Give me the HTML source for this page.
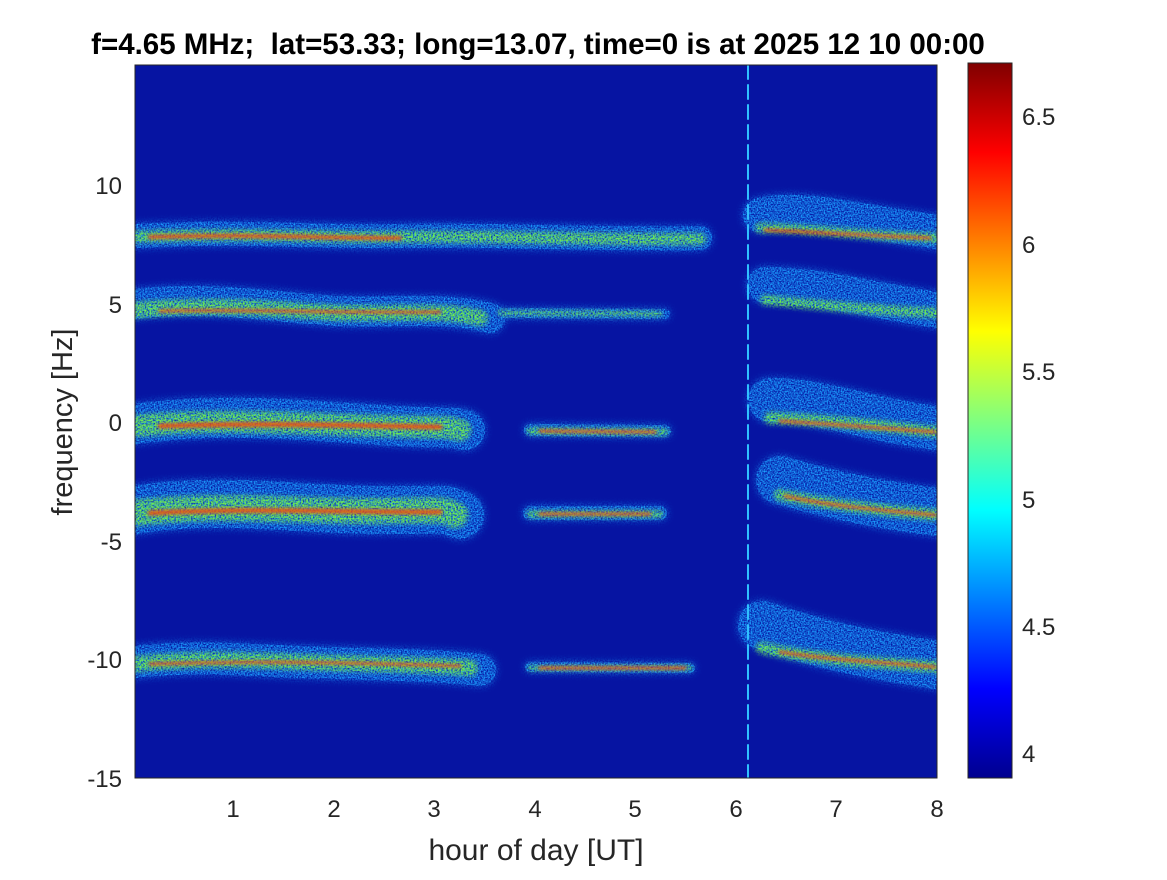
<!DOCTYPE html>
<html><head><style>
body{margin:0;background:#fff;}
svg text{font-family:"Liberation Sans",Arial,sans-serif;fill:#262626;}
</style></head><body>
<svg width="1167" height="875" xmlns="http://www.w3.org/2000/svg">
<defs>
<filter id="b1" x="-10%" y="-200%" width="120%" height="500%"><feGaussianBlur stdDeviation="4"/>
<feComposite in2="SourceGraphic" operator="over" result="bl"/>
<feTurbulence type="fractalNoise" baseFrequency="0.7" numOctaves="1" seed="3" result="n"/>
<feColorMatrix in="n" type="matrix" values="0 0 0 0 0  0 0 0 0 0  0 0 0 0 0  0 0 0 2.2 -0.6" result="na"/>
<feComposite in="bl" in2="na" operator="in"/></filter>
<filter id="b2" x="-10%" y="-200%" width="120%" height="500%"><feGaussianBlur stdDeviation="2.5" result="bl"/>
<feTurbulence type="fractalNoise" baseFrequency="0.6" numOctaves="1" seed="7" result="n"/>
<feColorMatrix in="n" type="matrix" values="0 0 0 0 0  0 0 0 0 0  0 0 0 0 0  0 0 0 2.5 -0.7" result="na"/>
<feComposite in="bl" in2="na" operator="in"/></filter>
<filter id="b3" x="-10%" y="-200%" width="120%" height="500%"><feGaussianBlur stdDeviation="1.5"/></filter>
<linearGradient id="jet" x1="0" y1="1" x2="0" y2="0">
<stop offset="0" stop-color="#00008f"/><stop offset="0.125" stop-color="#0000ff"/>
<stop offset="0.375" stop-color="#00ffff"/><stop offset="0.625" stop-color="#ffff00"/>
<stop offset="0.875" stop-color="#ff0000"/><stop offset="1" stop-color="#800000"/>
</linearGradient>
<clipPath id="pc"><rect x="135" y="65" width="802" height="713"/></clipPath>
</defs>
<rect x="135" y="65" width="802" height="713" fill="#0614a2"/>
<g clip-path="url(#pc)" fill="none" stroke-linecap="round">
<g stroke="#1aa0ff" filter="url(#b1)">
<path d="M135,236 C250,230 320,238 400,236 S600,240 700,238" stroke-width="24"/>
<path d="M760,215 C800,205 850,220 937,232" stroke-width="34"/>
<path d="M135,304 C200,296 260,305 320,310 S440,305 490,318" stroke-width="30"/>
<path d="M500,313 L665,314" stroke-width="10"/>
<path d="M765,285 C820,285 870,300 937,310" stroke-width="36"/>
<path d="M135,424 C220,412 300,420 380,425 S440,425 465,430" stroke-width="40"/>
<path d="M530,430 L665,431" stroke-width="12"/>
<path d="M770,400 C820,400 870,420 937,428" stroke-width="44"/>
<path d="M135,510 C220,496 300,510 380,510 S440,508 460,515" stroke-width="48"/>
<path d="M530,513 L660,513" stroke-width="14"/>
<path d="M780,480 C830,495 880,505 937,512" stroke-width="48"/>
<path d="M135,662 C200,655 240,660 300,662 S440,665 480,670" stroke-width="32"/>
<path d="M530,667 L690,668" stroke-width="10"/>
<path d="M762,625 C820,645 870,655 937,665" stroke-width="48"/>
</g>
<g stroke="#70f050" filter="url(#b2)">
<path d="M135,237 C250,233 320,238 400,237 S600,240 700,239" stroke-width="12"/>
<path d="M760,228 C800,228 850,235 937,238" stroke-width="10"/>
<path d="M135,310 C200,304 260,308 320,312 S440,308 480,318" stroke-width="16"/>
<path d="M500,313 L660,314" stroke-width="5"/>
<path d="M765,300 C820,305 870,310 937,313" stroke-width="10"/>
<path d="M135,426 C220,418 300,424 380,426 S440,426 460,430" stroke-width="22"/>
<path d="M530,431 L665,432" stroke-width="7"/>
<path d="M770,418 C820,420 870,425 937,432" stroke-width="12"/>
<path d="M135,513 C220,503 300,512 380,511 S440,510 455,515" stroke-width="26"/>
<path d="M530,514 L660,514" stroke-width="7"/>
<path d="M780,495 C830,505 880,510 937,515" stroke-width="12"/>
<path d="M135,664 C200,658 240,660 300,662 S440,665 470,668" stroke-width="16"/>
<path d="M530,668 L690,668" stroke-width="5"/>
<path d="M762,648 C820,660 870,662 937,667" stroke-width="12"/>
</g>
<g stroke="#f05010" filter="url(#b3)" opacity="0.9">
<path d="M150,237 C250,234 320,238 400,238" stroke-width="4"/>
<path d="M765,230 C820,232 870,236 930,238" stroke-width="3"/>
<path d="M160,311 C260,309 320,313 440,312" stroke-width="3"/>
<path d="M160,426 C260,423 330,425 440,427" stroke-width="5"/>
<path d="M540,431 L655,432" stroke-width="3"/>
<path d="M780,421 C830,424 880,428 935,432" stroke-width="3"/>
<path d="M150,513 C250,508 330,512 440,512" stroke-width="5"/>
<path d="M540,514 L650,514" stroke-width="3"/>
<path d="M785,496 C830,506 880,510 935,515" stroke-width="3"/>
<path d="M150,664 C250,661 330,662 460,666" stroke-width="3"/>
<path d="M540,668 L685,668" stroke-width="3"/>
<path d="M780,652 C830,660 880,662 935,667" stroke-width="3"/>
</g>
<line x1="748" y1="65" x2="748" y2="778" stroke="#30c0ff" stroke-width="2" stroke-dasharray="14,6"/>
</g>
<rect x="135" y="65" width="802" height="713" fill="none" stroke="#262626" stroke-width="1"/>
<g font-size="24" text-anchor="middle">
<text x="233" y="817">1</text><text x="334" y="817">2</text><text x="434" y="817">3</text>
<text x="535" y="817">4</text><text x="635" y="817">5</text><text x="736" y="817">6</text>
<text x="836" y="817">7</text><text x="937" y="817">8</text>
</g>
<g font-size="24" text-anchor="end">
<text x="122" y="194">10</text><text x="122" y="313">5</text><text x="122" y="431">0</text>
<text x="122" y="550">-5</text><text x="122" y="668">-10</text><text x="122" y="787">-15</text>
</g>
<text x="536" y="860" font-size="30" text-anchor="middle">hour of day [UT]</text>
<text transform="translate(72,422) rotate(-90)" font-size="29" text-anchor="middle">frequency [Hz]</text>
<text x="538" y="54" font-size="29.5" font-weight="bold" text-anchor="middle" style="fill:#000" xml:space="preserve">f=4.65 MHz;  lat=53.33; long=13.07, time=0 is at 2025 12 10 00:00</text>
<rect x="968" y="63" width="44" height="715" fill="url(#jet)" stroke="#262626" stroke-width="1"/>
<g font-size="24">
<text x="1022" y="125">6.5</text><text x="1022" y="253">6</text><text x="1022" y="380">5.5</text>
<text x="1022" y="508">5</text><text x="1022" y="635">4.5</text><text x="1022" y="762">4</text>
</g>
</svg>
</body></html>
